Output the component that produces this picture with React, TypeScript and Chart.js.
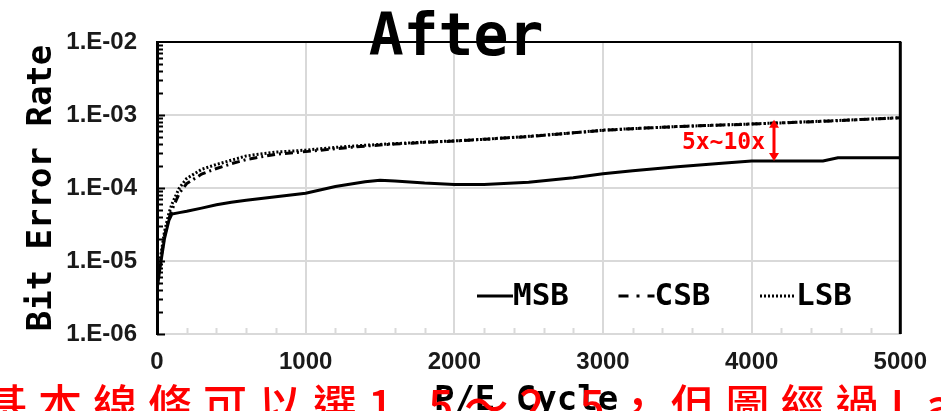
import React, { useEffect, useRef } from 'react';
import { Chart, registerables } from 'chart.js';

Chart.register(...registerables);

// ---- data ----
const peCycles = [0, 20, 50, 80, 100, 150, 200, 300, 400, 500, 600, 800, 1000, 1200, 1400, 1500, 1600, 1800, 2000, 2200, 2500, 2800, 3000, 3200, 3500, 3800, 4000, 4200, 4480, 4580, 4800, 5000];
const msbValues = [4e-6, 8e-6, 2e-5, 3.6e-5, 4.4e-5, 4.6e-5, 4.8e-5, 5.3e-5, 5.9e-5, 6.4e-5, 6.8e-5, 7.6e-5, 8.5e-5, 1.05e-4, 1.22e-4, 1.28e-4, 1.25e-4, 1.17e-4, 1.12e-4, 1.12e-4, 1.2e-4, 1.38e-4, 1.57e-4, 1.72e-4, 1.95e-4, 2.18e-4, 2.34e-4, 2.34e-4, 2.34e-4, 2.6e-4, 2.6e-4, 2.6e-4];
const csbValues = [4e-6, 9e-6, 2.2e-5, 3.8e-5, 5e-5, 8.5e-5, 1.15e-4, 1.55e-4, 1.85e-4, 2.15e-4, 2.45e-4, 2.9e-4, 3.15e-4, 3.45e-4, 3.75e-4, 3.88e-4, 4.0e-4, 4.22e-4, 4.4e-4, 4.65e-4, 5.05e-4, 5.7e-4, 6.15e-4, 6.5e-4, 6.95e-4, 7.3e-4, 7.5e-4, 7.8e-4, 8.2e-4, 8.35e-4, 8.8e-4, 9.15e-4];
const lsbValues = [4.5e-6, 1e-5, 2.5e-5, 4.5e-5, 6e-5, 1.0e-4, 1.35e-4, 1.8e-4, 2.1e-4, 2.4e-4, 2.75e-4, 3.1e-4, 3.3e-4, 3.6e-4, 3.85e-4, 3.95e-4, 4.05e-4, 4.25e-4, 4.42e-4, 4.65e-4, 5.1e-4, 5.7e-4, 6.2e-4, 6.5e-4, 6.95e-4, 7.3e-4, 7.55e-4, 7.8e-4, 8.25e-4, 8.4e-4, 8.8e-4, 9.2e-4];
const seriesLabels = ['MSB', 'CSB', 'LSB'];

const xTickValues = [0, 1000, 2000, 3000, 4000, 5000];
const xMinorStep = 200;
const yDecades = [-6, -5, -4, -3, -2];
const yTickLabels = ['1.E-06', '1.E-05', '1.E-04', '1.E-03', '1.E-02'];

const chartTitle = 'After';
const yAxisTitle = 'Bit Error Rate';
const xAxisTitle = 'P/E Cycle';
const annotationText = '5x~10x';
const annotationX = 4150;
const annotationTop = 8.6e-4;
const annotationBottom = 2.34e-4;
const overlayNote = '基本線條可以選1.5～2.5，但圖經過Latex縮放後會變細';

// ---- styles ----
const MONO = '"DejaVu Sans Mono", monospace';
const SANS = '"Liberation Sans", Arial, sans-serif';
const GRID = '#d9d9d9';
const lineDashes = [[], [8, 4, 2, 4], [2, 2]];
const legendDashes = [[], [10, 8, 3, 8], [2, 2]];

const isPow10 = (v: number) => {
  const e = Math.log10(v);
  return Math.abs(e - Math.round(e)) < 1e-9;
};

const decorPlugin = {
  id: 'decor',
  afterDraw(chart: any) {
    const { ctx, chartArea, scales } = chart;
    const { left, right, top, bottom } = chartArea;
    const xs = scales.x;
    const ys = scales.y;
    ctx.save();

    // inward y ticks (log minor + major)
    ctx.strokeStyle = '#000';
    ctx.lineWidth = 2;
    for (let e = yDecades[0]; e < yDecades[yDecades.length - 1]; e++) {
      for (let m = 1; m <= 9; m++) {
        const py = Math.round(ys.getPixelForValue(m * Math.pow(10, e))) + 0.5;
        const len = m === 1 ? 8 : 6;
        ctx.beginPath();
        ctx.moveTo(left, py);
        ctx.lineTo(left + len, py);
        ctx.stroke();
      }
    }
    // inward x minor ticks
    ctx.strokeStyle = GRID;
    for (let v = xMinorStep; v < 5000; v += xMinorStep) {
      if (v % 1000 === 0) continue;
      const px = Math.round(xs.getPixelForValue(v)) + 0.5;
      ctx.beginPath();
      ctx.moveTo(px, bottom);
      ctx.lineTo(px, bottom - 6);
      ctx.stroke();
    }

    // top & right borders
    ctx.strokeStyle = '#000';
    ctx.lineWidth = 2;
    ctx.beginPath();
    ctx.moveTo(left, top);
    ctx.lineTo(right + 1, top);
    ctx.stroke();
    ctx.lineWidth = 3;
    ctx.beginPath();
    ctx.moveTo(right, top);
    ctx.lineTo(right, bottom);
    ctx.stroke();

    // legend inside plot
    ctx.font = `bold 31px ${MONO}`;
    ctx.fillStyle = '#000';
    ctx.textBaseline = 'middle';
    ctx.textAlign = 'left';
    const legY = 296;
    chart.data.datasets.forEach((ds: any, i: number) => {
      const sx = 477 + i * 141.5;
      ctx.lineWidth = 3;
      ctx.setLineDash(legendDashes[i]);
      ctx.beginPath();
      ctx.moveTo(sx, legY);
      ctx.lineTo(sx + 36, legY);
      ctx.stroke();
      ctx.setLineDash([]);
      ctx.fillText(ds.label, sx + 36, legY + 1);
    });

    // annotation arrow
    const ax = Math.round(xs.getPixelForValue(annotationX));
    const ay1 = ys.getPixelForValue(annotationTop);
    const ay2 = ys.getPixelForValue(annotationBottom);
    ctx.strokeStyle = '#ff0000';
    ctx.fillStyle = '#ff0000';
    ctx.lineWidth = 3;
    ctx.beginPath();
    ctx.moveTo(ax, ay1 + 6);
    ctx.lineTo(ax, ay2 - 6);
    ctx.stroke();
    ctx.beginPath();
    ctx.moveTo(ax, ay1);
    ctx.lineTo(ax - 5, ay1 + 8);
    ctx.lineTo(ax + 5, ay1 + 8);
    ctx.closePath();
    ctx.fill();
    ctx.beginPath();
    ctx.moveTo(ax, ay2);
    ctx.lineTo(ax - 5, ay2 - 8);
    ctx.lineTo(ax + 5, ay2 - 8);
    ctx.closePath();
    ctx.fill();
    ctx.font = `bold 23px ${MONO}`;
    ctx.textAlign = 'right';
    ctx.textBaseline = 'middle';
    ctx.fillText(annotationText, ax - 9, (ay1 + ay2) / 2 + 3);

    // chart title
    ctx.fillStyle = '#000';
    ctx.font = `bold 58px ${MONO}`;
    ctx.textAlign = 'center';
    ctx.textBaseline = 'alphabetic';
    ctx.fillText(chartTitle, 456, 55);

    // y axis title
    ctx.save();
    ctx.translate(51, 188);
    ctx.rotate(-Math.PI / 2);
    ctx.font = `bold 34px ${MONO}`;
    ctx.textAlign = 'center';
    ctx.textBaseline = 'alphabetic';
    ctx.fillText(yAxisTitle, 0, 0);
    ctx.restore();

    // x axis title
    ctx.font = `bold 34px ${MONO}`;
    ctx.textAlign = 'center';
    ctx.textBaseline = 'alphabetic';
    ctx.fillText(xAxisTitle, 526, 410);

    // red overlay note (cropped)
    ctx.fillStyle = '#ff0000';
    ctx.font = '500 44px "Noto Sans CJK TC", "Noto Sans CJK SC", sans-serif';
    ctx.textAlign = 'left';
    ctx.textBaseline = 'alphabetic';
    try { (ctx as any).letterSpacing = '11px'; } catch (e) { /* ignore */ }
    ctx.fillText(overlayNote, -17, 422);

    ctx.restore();
  },
};

export default function App() {
  const ref = useRef<HTMLCanvasElement | null>(null);

  useEffect(() => {
    if (!ref.current) return;
    const seriesValues = [msbValues, csbValues, lsbValues];
    const chart = new Chart(ref.current, {
      type: 'line',
      data: {
        datasets: seriesValues.map((vals, i) => ({
          label: seriesLabels[i],
          data: peCycles.map((x, j) => ({ x, y: vals[j] })),
          borderColor: '#000',
          backgroundColor: '#000',
          borderWidth: 3,
          borderDash: lineDashes[i],
          pointRadius: 0,
          tension: 0,
          fill: false,
        })),
      },
      options: {
        responsive: false,
        animation: false,
        devicePixelRatio: 1,
        layout: { padding: { top: 42, right: 35, left: 0, bottom: 0 } },
        plugins: {
          legend: { display: false },
          tooltip: { enabled: false },
          title: { display: false },
        },
        scales: {
          x: {
            type: 'linear',
            min: 0,
            max: 5000,
            afterBuildTicks: (s: any) => {
              s.ticks = xTickValues.map((v) => ({ value: v }));
            },
            afterFit: (s: any) => {
              s.height = 77;
            },
            grid: {
              color: (c: any) =>
                c.tick && (c.tick.value === 0 || c.tick.value === 5000) ? 'rgba(0,0,0,0)' : GRID,
              lineWidth: 2,
              drawTicks: false,
            },
            border: { color: GRID, width: 2 },
            ticks: {
              autoSkip: false,
              maxRotation: 0,
              padding: 14,
              color: '#1a1a1a',
              font: { family: SANS, size: 24, weight: 'bold' },
              callback: (v: any) => String(v),
            },
          },
          y: {
            type: 'logarithmic',
            min: 1e-6,
            max: 1e-2,
            afterBuildTicks: (s: any) => {
              const t: any[] = [];
              for (let e = yDecades[0]; e < yDecades[yDecades.length - 1]; e++) {
                for (let m = 1; m <= 9; m++) t.push({ value: m * Math.pow(10, e), major: m === 1 });
              }
              t.push({ value: Math.pow(10, yDecades[yDecades.length - 1]), major: true });
              s.ticks = t;
            },
            afterFit: (s: any) => {
              s.width = 157;
            },
            grid: {
              color: (c: any) => (c.tick && isPow10(c.tick.value) ? GRID : 'rgba(0,0,0,0)'),
              lineWidth: 2,
              drawTicks: false,
            },
            border: { color: '#000', width: 3 },
            ticks: {
              autoSkip: false,
              padding: 20,
              color: '#1a1a1a',
              font: { family: SANS, size: 24, weight: 'bold' },
              callback: (v: any) => {
                const n = Number(v);
                if (!isPow10(n)) return '';
                const idx = yDecades.indexOf(Math.round(Math.log10(n)));
                return idx >= 0 ? yTickLabels[idx] : '';
              },
            },
          },
        },
      } as any,
      plugins: [decorPlugin],
    } as any);
    return () => chart.destroy();
  }, []);

  return (
    <div style={{ position: 'fixed', left: 0, top: 0, width: 941, height: 411, background: '#fff' }}>
      <canvas ref={ref} width={941} height={411} style={{ display: 'block', width: 941, height: 411 }} />
    </div>
  );
}
